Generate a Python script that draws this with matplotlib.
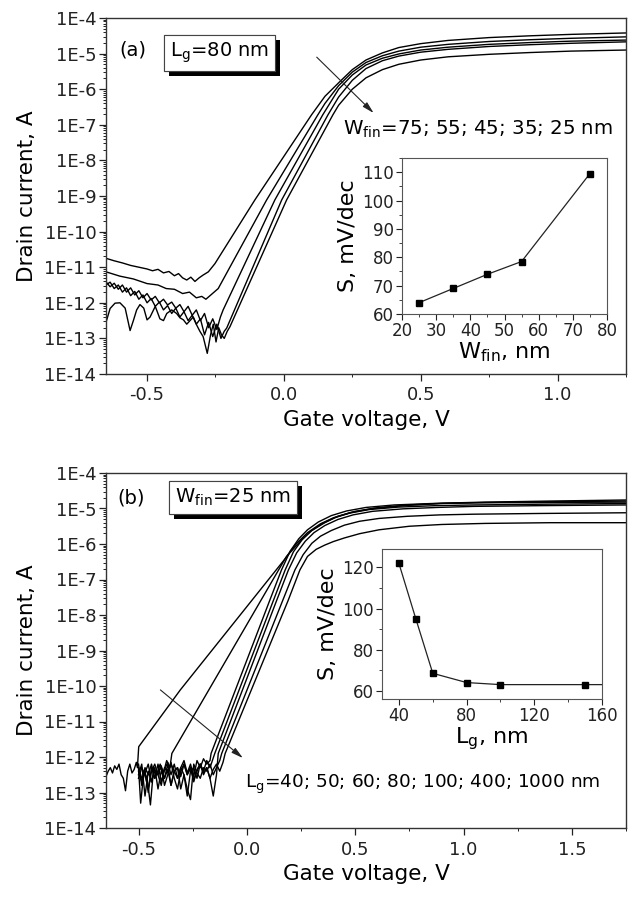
import matplotlib
matplotlib.use('Agg')
import matplotlib.pyplot as plt
import numpy as np
from matplotlib import patheffects as pe
from matplotlib.ticker import MultipleLocator, LogLocator, NullFormatter

plt.rcParams['font.family'] = ['DejaVu Sans']
plt.rcParams['axes.unicode_minus'] = False
plt.rcParams['mathtext.fontset'] = 'dejavusans'

# ---------------- panel (a): Lg = 80 nm, several Wfin ----------------
# gate voltage (V) and log10(drain current / A)
A75_V = [-0.65, -0.62, -0.59, -0.56, -0.53, -0.50, -0.48, -0.46, -0.44, -0.42, -0.40, -0.385, -0.37,
         -0.355, -0.34, -0.325, -0.31, -0.295, -0.276, -0.252, -0.106, 0.101, 0.15, 0.204, 0.25, 0.30,
         0.36, 0.42, 0.50, 0.60, 0.75, 0.90, 1.05, 1.25]
A75_L = [-10.75, -10.82, -10.88, -10.95, -11.0, -11.05, -11.1, -11.06, -11.16, -11.12, -11.24, -11.18,
         -11.3, -11.36, -11.28, -11.4, -11.3, -11.22, -11.13, -10.9, -9.11, -6.72, -6.2, -5.79, -5.45,
         -5.18, -4.98, -4.83, -4.72, -4.63, -4.55, -4.5, -4.46, -4.42]

A55_V = [-0.65, -0.60, -0.55, -0.50, -0.46, -0.43, -0.40, -0.37, -0.345, -0.32, -0.30, -0.285, -0.27,
         -0.255, -0.24, -0.063, 0.124, 0.15, 0.20, 0.25, 0.30, 0.36, 0.42, 0.50, 0.60, 0.75, 0.90, 1.05, 1.25]
A55_L = [-11.13, -11.25, -11.33, -11.46, -11.5, -11.6, -11.62, -11.74, -11.7, -11.86, -11.82, -11.9,
         -11.8, -11.7, -11.6, -9.11, -6.72, -6.4, -5.9, -5.52, -5.25, -5.06, -4.93, -4.82, -4.74, -4.66,
         -4.61, -4.57, -4.53]

A_GRID = [-0.65, -0.635, -0.62, -0.605, -0.59, -0.575, -0.56, -0.545, -0.53, -0.515, -0.50, -0.485,
          -0.47, -0.455, -0.44, -0.425, -0.41, -0.395, -0.38, -0.365, -0.35, -0.335, -0.32, -0.305,
          -0.29, -0.275, -0.26, -0.245, -0.23]

A45_V = A_GRID[:28] + [-0.232, -0.222, -0.033, 0.142, 0.15, 0.20, 0.25, 0.30, 0.36, 0.42, 0.50,
                       0.60, 0.75, 0.90, 1.05, 1.25]
A45_L = [-11.41, -11.55, -11.45, -11.62, -11.5, -11.7, -11.58, -11.78, -11.66, -11.86, -11.74, -11.92,
         -11.82, -12.0, -11.9, -12.06, -11.98, -12.15, -12.05, -12.25, -12.1, -12.35, -12.2, -12.5,
         -12.3, -12.7, -12.45, -12.75, -12.4, -12.2, -9.11, -6.72, -6.62, -6.0, -5.6, -5.32, -5.13,
         -5.01, -4.9, -4.82, -4.74, -4.69, -4.65, -4.62]

A35_V = A_GRID[:29] + [-0.218, -0.209, -0.008, 0.161, 0.20, 0.25, 0.30, 0.36, 0.42, 0.50, 0.60,
                       0.75, 0.90, 1.05, 1.25]
A35_L = [-11.5, -11.42, -11.6, -11.5, -11.7, -11.58, -11.8, -11.68, -11.9, -11.78, -12.0, -11.88,
         -12.1, -11.98, -12.2, -12.08, -12.3, -12.15, -12.4, -12.25, -12.5, -12.35, -12.6, -12.45,
         -12.9, -12.55, -12.95, -12.6, -13.0, -12.8, -12.71, -9.11, -6.72, -6.22, -5.75, -5.42, -5.2,
         -5.07, -4.96, -4.88, -4.8, -4.75, -4.71, -4.67]

A25_V = [-0.65, -0.635, -0.617, -0.599, -0.58, -0.562, -0.55, -0.538, -0.526, -0.512, -0.50, -0.489,
         -0.47, -0.453, -0.44, -0.428, -0.41, -0.392, -0.38, -0.367, -0.355, -0.343, -0.331, -0.319,
         -0.307, -0.295, -0.28, -0.268, -0.258, -0.248, -0.238, -0.228, -0.218, -0.207, -0.197, 0.010,
         0.179, 0.20, 0.25, 0.30, 0.36, 0.42, 0.50, 0.60, 0.75, 0.90, 1.05, 1.25]
A25_L = [-12.55, -12.16, -12.01, -12.0, -12.15, -12.78, -12.5, -12.2, -12.05, -12.15, -12.48, -12.4,
         -12.1, -12.45, -12.5, -12.3, -12.2, -12.3, -12.42, -12.48, -12.6, -12.5, -12.4, -12.62, -12.8,
         -12.95, -13.42, -12.9, -12.6, -13.1, -12.7, -12.9, -13.0, -12.8, -12.67, -9.11, -6.72, -6.45,
         -6.0, -5.68, -5.45, -5.3, -5.18, -5.09, -5.02, -4.97, -4.93, -4.90]

# inset (a): S vs Wfin
WFIN = [25, 35, 45, 55, 75]
S_WFIN = [64, 69, 74, 78.5, 109.5]

# ---------------- panel (b): Wfin = 25 nm, several Lg ----------------
B_GRID = [-0.50, -0.485, -0.47, -0.455, -0.44, -0.425, -0.41, -0.395, -0.38, -0.365, -0.35, -0.335,
          -0.32, -0.305, -0.29, -0.275, -0.26, -0.245, -0.23, -0.215, -0.20, -0.185, -0.17, -0.155,
          -0.14, -0.125, -0.11]

B40_V = [-0.65, -0.64, -0.63, -0.62, -0.61, -0.60, -0.59, -0.58, -0.57, -0.56, -0.55, -0.54, -0.53,
         -0.52, -0.51, -0.505, -0.499, -0.307, 0.197, 0.25, 0.30, 0.36, 0.42, 0.50, 0.60, 0.75, 0.90,
         1.10, 1.40, 1.75]
B40_L = [-12.55, -12.4, -12.3, -12.45, -12.25, -12.35, -12.2, -12.5, -12.6, -12.95, -12.4, -12.2,
         -12.45, -12.35, -12.15, -12.3, -11.71, -10.11, -6.26, -5.9, -5.62, -5.4, -5.22, -5.08, -4.98,
         -4.9, -4.85, -4.82, -4.79, -4.76]

B50_V = [-0.50, -0.49, -0.475, -0.46, -0.445, -0.43, -0.415, -0.40, -0.385, -0.37, -0.355, -0.346,
         0.182, 0.23, 0.28, 0.34, 0.40, 0.48, 0.58, 0.72, 0.90, 1.10, 1.40, 1.75]
B50_L = [-12.3, -13.3, -12.4, -12.6, -13.35, -12.3, -12.5, -12.2, -12.45, -12.1, -12.3, -11.9, -6.36,
         -5.98, -5.68, -5.43, -5.26, -5.11, -5.0, -4.92, -4.86, -4.83, -4.81, -4.79]

B60_V = B_GRID[:23] + [-0.165, 0.105, 0.160, 0.20, 0.24, 0.28, 0.33, 0.39, 0.46, 0.55, 0.68, 0.85,
                       1.05, 1.35, 1.75]
B60_L = [-12.2, -12.8, -12.4, -13.0, -12.3, -12.6, -12.2, -12.7, -12.35, -12.15, -12.5, -12.2, -12.6,
         -12.3, -12.1, -12.45, -12.2, -12.55, -12.1, -12.3, -12.05, -12.2, -12.1, -11.9, -7.6, -6.73,
         -6.2, -5.85, -5.6, -5.38, -5.2, -5.07, -4.97, -4.9, -4.86, -4.84, -4.83, -4.82]

B80_V = B_GRID[:23] + [-0.148, 0.122, 0.177, 0.215, 0.255, 0.295, 0.345, 0.405, 0.475, 0.565, 0.70,
                       0.87, 1.05, 1.35, 1.75]
B80_L = [-12.5, -12.2, -13.1, -12.4, -12.7, -12.3, -12.9, -12.4, -12.6, -12.2, -12.8, -12.4, -12.3,
         -12.9, -12.5, -13.1, -12.4, -12.3, -12.6, -12.2, -12.4, -12.1, -12.3, -11.9, -7.6, -6.73,
         -6.22, -5.88, -5.64, -5.43, -5.26, -5.13, -5.03, -4.96, -4.92, -4.9, -4.88, -4.86]

B100_V = B_GRID[:25] + [-0.132, 0.137, 0.192, 0.23, 0.27, 0.31, 0.36, 0.42, 0.49, 0.58, 0.72, 0.88,
                        1.05, 1.35, 1.75]
B100_L = [-12.6, -12.3, -12.5, -12.9, -12.4, -12.2, -12.5, -12.8, -12.3, -12.45, -12.15, -12.6, -12.9,
          -12.4, -12.2, -12.5, -12.3, -12.7, -12.35, -12.2, -12.5, -12.3, -12.6, -13.1, -12.5, -11.9,
          -7.6, -6.73, -6.25, -5.92, -5.68, -5.48, -5.31, -5.18, -5.08, -5.01, -4.97, -4.94, -4.92, -4.90]

B400_V = B_GRID[:26] + [-0.116, 0.165, 0.222, 0.26, 0.30, 0.34, 0.39, 0.45, 0.52, 0.61, 0.74,
                        0.89, 1.05, 1.35, 1.75]
B400_L = [-12.4, -12.7, -12.3, -12.5, -12.2, -12.6, -12.4, -12.3, -12.8, -12.5, -12.2, -12.4, -12.6,
          -12.3, -12.5, -12.9, -13.2, -12.2, -12.45, -12.6, -12.3, -12.4, -12.2, -12.5, -12.3, -12.1,
          -11.9, -7.6, -6.73, -6.3, -5.98, -5.78, -5.62, -5.47, -5.36, -5.28, -5.22, -5.18, -5.16,
          -5.14, -5.12]

B1000_V = B_GRID[:27] + [-0.100, 0.190, 0.245, 0.28, 0.32, 0.36, 0.40, 0.45, 0.52, 0.61, 0.75, 0.90,
                         1.10, 1.40, 1.75]
B1000_L = [-12.3, -12.6, -12.45, -12.2, -12.7, -12.4, -12.5, -12.25, -12.6, -12.35, -12.8, -12.4, -12.3,
           -12.55, -12.2, -12.5, -12.3, -12.65, -12.4, -12.2, -12.45, -12.3, -12.6, -12.35, -12.2, -12.4,
           -12.15, -11.9, -7.6, -6.73, -6.35, -6.15, -6.03, -5.93, -5.83, -5.71, -5.6, -5.5, -5.45,
           -5.42, -5.40, -5.40]

# inset (b): S vs Lg
LG = [40, 50, 60, 80, 100, 150, 400]
S_LG = [122, 95, 68.5, 64, 63, 63, 63]

Y_EXP = list(range(-14, -3))
Y_LABELS = ['1E%d' % e for e in Y_EXP]
XT_A = [-0.5, 0.0, 0.5, 1.0]
XT_B = [-0.5, 0.0, 0.5, 1.0, 1.5]

W, H = 628, 897
fig = plt.figure(figsize=(W / 100, H / 100), dpi=100)


def fx(px):
    return px / W


def fy(py):
    return 1 - py / H


def main_axes(top, bottom, xmax, xticks):
    ax = fig.add_axes([fx(106), fy(bottom), (626 - 106) / W, (bottom - top) / H])
    ax.set_yscale('log')
    ax.set_ylim(1e-14, 1e-4)
    ax.set_xlim(-0.65, xmax)
    ax.set_yticks([10.0 ** e for e in Y_EXP])
    ax.set_yticklabels(Y_LABELS)
    ax.yaxis.set_minor_locator(LogLocator(base=10, subs=np.arange(2, 10), numticks=100))
    ax.yaxis.set_minor_formatter(NullFormatter())
    ax.set_xticks(xticks)
    ax.set_xticklabels(['%.1f' % v for v in xticks])
    ax.xaxis.set_minor_locator(MultipleLocator(0.25))
    ax.tick_params(which='major', direction='out', length=5, width=0.9, labelsize=13, colors='#222')
    ax.tick_params(which='minor', direction='out', length=2.5, width=0.7, colors='#222')
    ax.tick_params(axis='y', pad=2)
    ax.tick_params(axis='x', pad=4)
    for s in ax.spines.values():
        s.set_linewidth(1.0)
        s.set_color('#333')
    ax.set_ylabel('Drain current, A', fontsize=15.5, labelpad=5)
    ax.set_xlabel('Gate voltage, V', fontsize=15.5, labelpad=4)
    return ax


def shadow_box(ax, x, y, s):
    t = ax.text(x, y, s, fontsize=14, ha='left', va='baseline',
                bbox=dict(boxstyle='square,pad=0.3', fc='white', ec='#444', lw=0.8))
    t.get_bbox_patch().set_path_effects(
        [pe.withSimplePatchShadow(offset=(3.5, -3.5), shadow_rgbFace='k', alpha=1.0), pe.Normal()])
    return t


def inset(rect, xlim, ylim, xmaj, xmin, ymaj, ymin):
    ia = fig.add_axes(rect)
    ia.set_xlim(*xlim)
    ia.set_ylim(*ylim)
    ia.xaxis.set_major_locator(MultipleLocator(xmaj))
    ia.xaxis.set_minor_locator(MultipleLocator(xmin))
    ia.yaxis.set_major_locator(MultipleLocator(ymaj))
    ia.yaxis.set_minor_locator(MultipleLocator(ymin))
    ia.tick_params(which='major', direction='out', length=4, width=0.8, labelsize=12, pad=2, colors='#222')
    ia.tick_params(which='minor', direction='out', length=2, width=0.6, colors='#222')
    for s in ia.spines.values():
        s.set_linewidth(0.8)
        s.set_color('#555')
    return ia


# ---- panel (a)
ax1 = main_axes(18, 374, 1.25, XT_A)
for V, L in [(A75_V, A75_L), (A55_V, A55_L), (A45_V, A45_L), (A35_V, A35_L), (A25_V, A25_L)]:
    ax1.plot(V, 10.0 ** np.array(L), color='k', lw=1.0)
ax1.text(-0.60, 10 ** -5.04, '(a)', fontsize=14, ha='left', va='baseline')
shadow_box(ax1, -0.416, 10 ** -5.09, r'L$_\mathrm{g}$=80 nm')
ax1.annotate('', xy=(0.328, 10 ** -6.67), xytext=(0.120, 10 ** -5.10),
             arrowprops=dict(arrowstyle='-|>,head_length=0.7,head_width=0.18', color='#222', lw=0.8,
                             shrinkA=0, shrinkB=0))
ax1.text(0.215, 10 ** -7.29, r'W$_\mathrm{fin}$=75; 55; 45; 35; 25 nm', fontsize=14.2,
         ha='left', va='baseline')

in1 = inset([fx(402), fy(314), (607 - 402) / W, (314 - 158) / H], (20, 80), (60, 115), 10, 5, 10, 5)
in1.plot(WFIN, S_WFIN, color='#222', lw=0.9, marker='s', ms=5, mfc='k', mec='k')
in1.set_ylabel('S, mV/dec', fontsize=16, labelpad=3)
in1.set_xlabel(r'W$_\mathrm{fin}$, nm', fontsize=16, labelpad=0)

# ---- panel (b)
ax2 = main_axes(473, 828, 1.75, XT_B)
for V, L in [(B40_V, B40_L), (B50_V, B50_L), (B60_V, B60_L), (B80_V, B80_L), (B100_V, B100_L),
             (B400_V, B400_L), (B1000_V, B1000_L)]:
    ax2.plot(V, 10.0 ** np.array(L), color='k', lw=1.0)
ax2.text(-0.596, 10 ** -4.85, '(b)', fontsize=14, ha='left', va='baseline')
shadow_box(ax2, -0.330, 10 ** -4.85, r'W$_\mathrm{fin}$=25 nm')
ax2.annotate('', xy=(-0.018, 10 ** -12.03), xytext=(-0.399, 10 ** -10.11),
             arrowprops=dict(arrowstyle='-|>,head_length=0.7,head_width=0.18', color='#222', lw=0.8,
                             shrinkA=0, shrinkB=0))
ax2.text(-0.009, 10 ** -12.87, r'L$_\mathrm{g}$=40; 50; 60; 80; 100; 400; 1000 nm', fontsize=13.3,
         ha='left', va='baseline')

in2 = inset([fx(382), fy(699), (602 - 382) / W, (699 - 549) / H], (30, 160), (56, 129), 40, 20, 20, 10)
in2.plot(LG, S_LG, color='#222', lw=0.9, marker='s', ms=5, mfc='k', mec='k')
in2.set_ylabel('S, mV/dec', fontsize=16, labelpad=3)
in2.set_xlabel(r'L$_\mathrm{g}$, nm', fontsize=16, labelpad=0)

fig.savefig('out.png', dpi=100)
